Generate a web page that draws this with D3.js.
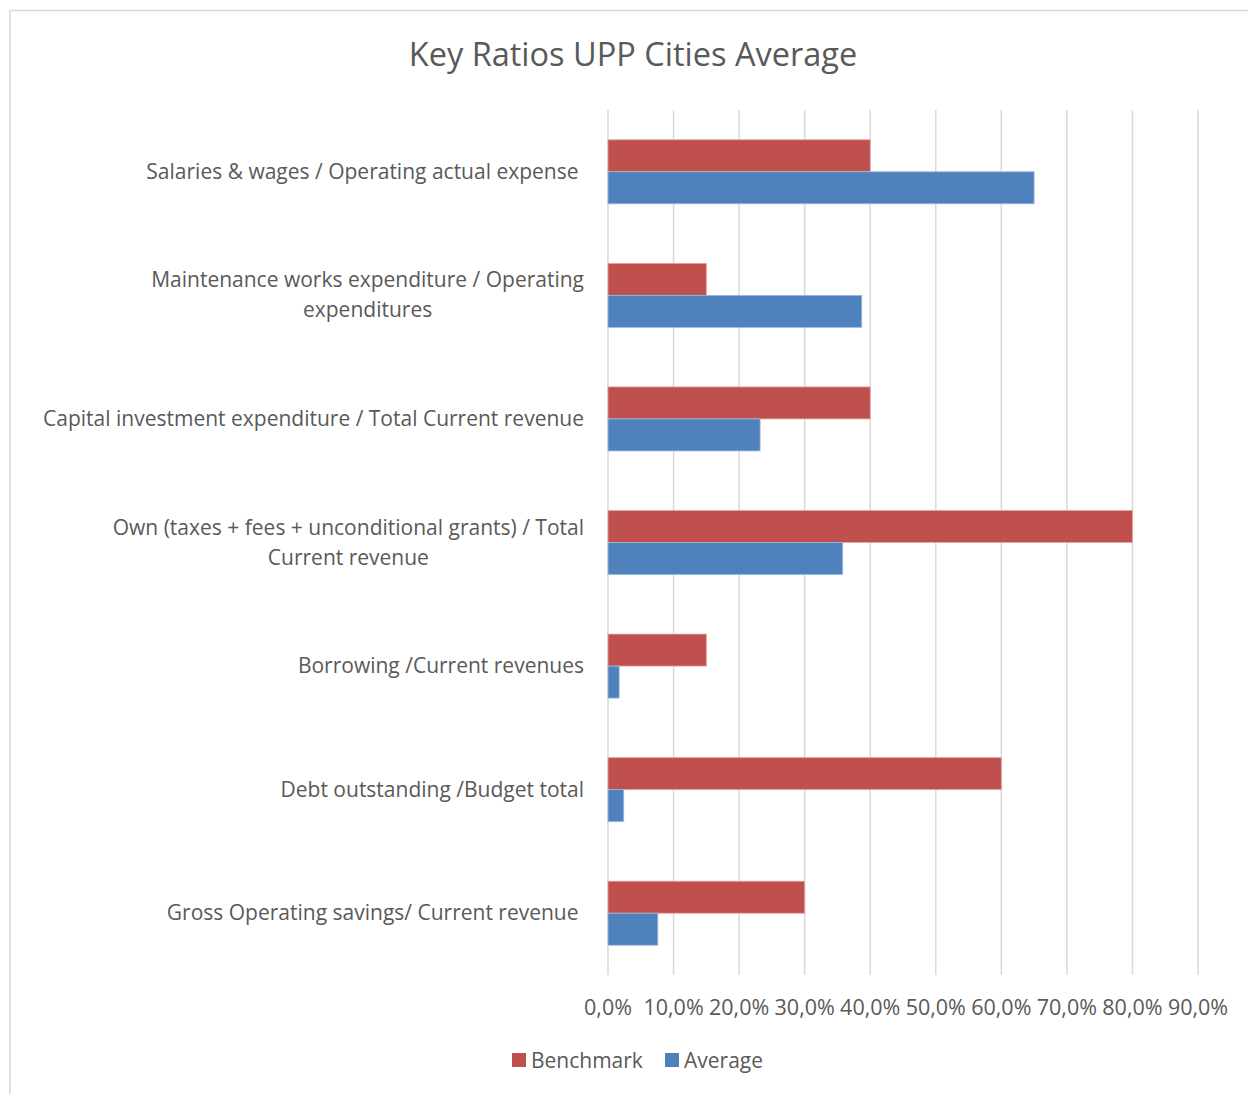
<!DOCTYPE html>
<html>
<head>
<meta charset="utf-8">
<script src="https://cdn.jsdelivr.net/npm/d3@7"></script>
<style>
  body { margin: 0; background: #fff; }
  text { font-family: "Open Sans", Lato, sans-serif; fill: #595959; white-space: pre; }
</style>
</head>
<body>
<svg id="chart"></svg>
<script>
// category labels (already split as in the picture)
var categories = [
	["Salaries & wages / Operating actual expense "],
	["Maintenance works expenditure / Operating", "expenditures"],
	["Capital investment expenditure / Total Current revenue"],
	["Own (taxes + fees + unconditional grants) / Total", "Current revenue"],
	["Borrowing /Current revenues"],
	["Debt outstanding /Budget total"],
	["Gross Operating savings/ Current revenue "]
];
var benchmark = [0.40, 0.15, 0.40, 0.80, 0.15, 0.60, 0.30];
var average = [0.65, 0.387, 0.232, 0.358, 0.017, 0.024, 0.076];
var ticks = [0, 0.1, 0.2, 0.3, 0.4, 0.5, 0.6, 0.7, 0.8, 0.9];
var seriesNames = ["Benchmark", "Average"];
var seriesColors = ["#C0504D", "#4F81BD"];
var seriesStroke = ["#E4A6A4", "#9DB9DE"];

var width = 1248, height = 1094;
var plot = {left: 608, right: 1198, top: 110, bottom: 975};
var fontSize = "21px";

var svg = d3.select("#chart")
	.attr("width", width)
	.attr("height", height);

// chart border (clipped at right/bottom like the screenshot)
svg.append("path")
	.attr("d", "M10," + height + " L10,10.5 L" + width + ",10.5")
	.attr("fill", "none")
	.attr("stroke", "#D9D9D9")
	.attr("stroke-width", 1.5);

svg.append("text")
	.attr("x", 633)
	.attr("y", 66)
	.attr("text-anchor", "middle")
	.style("font-size", "32.5px")
	.text("Key Ratios UPP Cities Average");

var x = d3.scaleLinear()
	.domain([0, 0.9])
	.range([plot.left, plot.right]);

var y = d3.scaleBand()
	.domain(d3.range(categories.length))
	.range([plot.top, plot.bottom]);

var inner = d3.scaleBand()
	.domain([0, 1])
	.range([0, y.bandwidth()])
	.paddingOuter(0.93);

// gridlines
svg.append("g").selectAll("line")
	.data(ticks)
	.enter()
	.append("line")
	.attr("x1", d => x(d)).attr("x2", d => x(d))
	.attr("y1", plot.top).attr("y2", plot.bottom)
	.attr("stroke", "#D9D9D9")
	.attr("stroke-width", 1.5);

// tick labels
var fmt = d3.format(".1%");
svg.append("g").selectAll("text")
	.data(ticks)
	.enter()
	.append("text")
	.attr("x", d => x(d))
	.attr("y", 1015)
	.attr("text-anchor", "middle")
	.style("font-size", "21.5px")
	.text(d => fmt(d).replace(".", ","));

// bars
[benchmark, average].forEach(function(values, s) {
	svg.append("g").selectAll("rect")
		.data(values)
		.enter()
		.append("rect")
		.attr("x", x(0))
		.attr("y", (d, i) => y(i) + inner(s))
		.attr("width", d => x(d) - x(0))
		.attr("height", inner.bandwidth())
		.attr("fill", seriesColors[s])
		.attr("stroke", seriesStroke[s])
		.attr("stroke-width", 0.8);
});

// category labels: block right-aligned, lines centred inside the block
var lineH = 30;
categories.forEach(function(lines, i) {
	var g = svg.append("g");
	var cy = y(i) + y.bandwidth() / 2;
	var t = g.selectAll("text")
		.data(lines)
		.enter()
		.append("text")
		.attr("y", (d, j) => cy + 7 + (j - (lines.length - 1) / 2) * lineH)
		.attr("text-anchor", "middle")
		.style("font-size", fontSize)
		.text(d => d);
	var maxW = d3.max(t.nodes(), n => n.getComputedTextLength());
	t.attr("x", 584 - maxW / 2);
});

// legend
var legend = svg.append("g");
var lx = [512, 665];
seriesNames.forEach(function(name, s) {
	legend.append("rect")
		.attr("x", lx[s]).attr("y", 1053)
		.attr("width", 14).attr("height", 14)
		.attr("fill", seriesColors[s]);
	legend.append("text")
		.attr("x", lx[s] + 19)
		.attr("y", 1068)
		.style("font-size", fontSize)
		.text(name);
});
</script>
</body>
</html>
